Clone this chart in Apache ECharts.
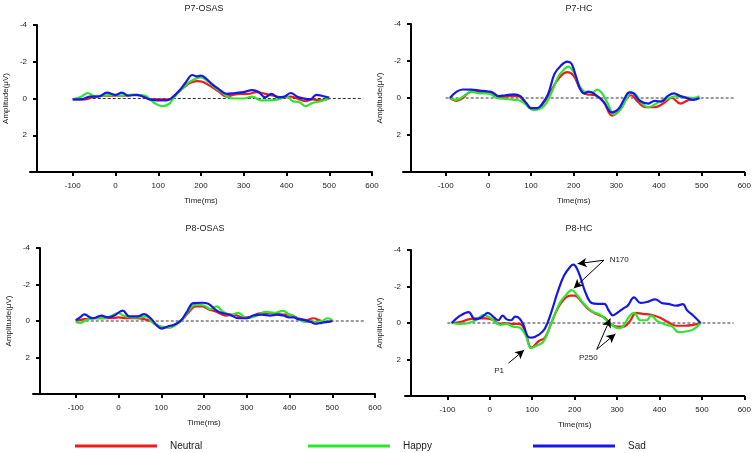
<!DOCTYPE html>
<html>
<head>
<meta charset="utf-8">
<script src="https://cdn.jsdelivr.net/npm/echarts@6/dist/echarts.min.js"></script>
<style>
html,body{margin:0;padding:0;background:#fff;}
#chart{width:754px;height:453px;}
</style>
</head>
<body>
<div id="chart"></div>
<script>
// ---- DATA ----
const seriesNames = ['Neutral', 'Happy', 'Sad'];
const panelTitles = ['P7-OSAS', 'P7-HC', 'P8-OSAS', 'P8-HC'];
const xTickValues = [-100, 0, 100, 200, 300, 400, 500, 600];
const yTickValues = [-4, -2, 0, 2];
const zeroLine = [[-100, 0], [575, 0]];

const p7osasNeutral = [[-100,0.05],[-70,0.05],[-50,-0.1],[-20,-0.15],[0,-0.15],[20,-0.15],[40,-0.2],[60,-0.15],[75,0],[100,0.05],[125,0.05],[140,-0.2],[160,-0.6],[175,-0.85],[190,-0.95],[205,-0.9],[220,-0.7],[240,-0.4],[260,-0.1],[275,-0.2],[290,-0.25],[310,-0.25],[330,-0.35],[350,-0.25],[370,-0.15],[390,-0.05],[410,-0.1],[430,0.05],[445,0.15],[460,0.05],[480,0.1],[500,0]];
const p7osasHappy = [[-100,0.05],[-80,-0.1],[-65,-0.3],[-50,-0.15],[-30,-0.15],[-10,-0.2],[10,-0.15],[30,-0.2],[50,-0.2],[70,-0.15],[80,0.05],[95,0.3],[110,0.42],[125,0.3],[135,0.0],[150,-0.4],[170,-0.85],[190,-1.1],[200,-1.15],[215,-0.95],[230,-0.65],[250,-0.3],[265,-0.05],[280,0],[300,0],[320,-0.1],[340,0.1],[360,0.1],[380,0.05],[400,-0.1],[415,0.15],[430,0.2],[445,0.42],[460,0.25],[480,0.15],[500,0]];
const p7osasSad = [[-100,0.05],[-80,0.05],[-60,-0.1],[-40,-0.1],[-20,-0.32],[0,-0.2],[15,-0.32],[30,-0.15],[50,-0.2],[70,-0.05],[80,0.05],[100,0.1],[120,0.1],[130,0],[150,-0.45],[165,-0.9],[180,-1.28],[190,-1.2],[200,-1.25],[210,-1.12],[225,-0.8],[240,-0.54],[260,-0.25],[280,-0.3],[300,-0.35],[320,-0.46],[335,-0.35],[350,-0.06],[365,-0.25],[380,-0.06],[395,-0.1],[410,-0.3],[425,-0.1],[440,0],[455,0.05],[470,-0.2],[490,-0.1],[500,-0.05]];

const p7hcNeutral = [[-90,0],[-75,0.15],[-60,0],[-45,-0.3],[-30,-0.35],[-10,-0.3],[10,-0.2],[30,-0.05],[50,-0.1],[70,-0.1],[85,0.2],[100,0.55],[115,0.55],[130,0.25],[145,-0.3],[160,-0.9],[175,-1.3],[185,-1.4],[200,-1.2],[215,-0.5],[230,-0.2],[250,-0.15],[270,0.2],[290,0.95],[310,0.6],[325,0],[335,-0.15],[350,0.2],[370,0.5],[390,0.5],[410,0.3],[430,0],[450,0.3],[470,0.1],[490,0.05]];
const p7hcHappy = [[-90,0],[-75,0.1],[-55,-0.15],[-40,-0.35],[-20,-0.25],[0,-0.25],[20,0],[40,0.05],[60,0.1],[75,0.15],[90,0.4],[105,0.65],[120,0.6],[135,0.3],[150,-0.4],[165,-1.2],[180,-1.6],[187,-1.7],[200,-1.4],[215,-0.6],[230,-0.3],[245,-0.3],[255,-0.46],[265,-0.3],[280,0.3],[295,0.9],[310,0.6],[325,0],[335,-0.3],[345,-0.2],[360,0.3],[375,0.5],[390,0.35],[405,0.15],[420,0.05],[440,-0.1],[460,-0.05],[480,0],[495,-0.1]];
const p7hcSad = [[-90,0],[-75,-0.33],[-60,-0.46],[-40,-0.45],[-20,-0.4],[0,-0.35],[10,-0.3],[25,-0.1],[40,-0.15],[60,-0.2],[75,-0.1],[90,0.3],[100,0.55],[115,0.55],[125,0.35],[140,-0.2],[155,-1.3],[170,-1.75],[185,-1.97],[195,-1.85],[205,-1.2],[215,-0.5],[225,-0.25],[235,-0.35],[250,-0.2],[270,0.2],[290,0.78],[305,0.6],[320,0],[330,-0.3],[340,-0.25],[355,0.15],[375,0.3],[390,0.15],[405,0.2],[420,-0.1],[435,-0.25],[450,-0.1],[465,0],[480,0.1],[495,0]];

const p8osasNeutral = [[-100,0],[-80,-0.1],[-60,-0.15],[-40,-0.15],[-20,-0.15],[0,-0.2],[20,-0.15],[40,-0.15],[60,-0.1],[75,0],[90,0.25],[105,0.35],[120,0.35],[135,0.15],[150,-0.1],[165,-0.5],[180,-0.8],[195,-0.8],[210,-0.65],[230,-0.5],[250,-0.3],[270,-0.35],[290,-0.2],[305,-0.2],[325,-0.4],[345,-0.45],[365,-0.4],[385,-0.35],[400,-0.35],[420,-0.15],[440,-0.05],[455,-0.15],[475,0],[490,0.05],[500,0]];
const p8osasHappy = [[-100,0.05],[-90,0.1],[-75,-0.05],[-55,-0.15],[-35,-0.15],[-15,-0.3],[0,-0.45],[10,-0.3],[30,-0.2],[50,-0.2],[65,-0.25],[80,0.1],[100,0.3],[120,0.35],[135,0.2],[150,-0.1],[165,-0.6],[180,-0.9],[200,-0.85],[215,-0.65],[230,-0.8],[245,-0.5],[265,-0.35],[280,-0.45],[300,-0.15],[320,-0.25],[345,-0.5],[365,-0.45],[385,-0.55],[400,-0.35],[420,-0.15],[435,0.05],[455,0.05],[475,0],[490,-0.15],[500,-0.05]];
const p8osasSad = [[-100,-0.05],[-90,-0.2],[-80,-0.36],[-60,-0.15],[-40,-0.3],[-25,-0.2],[-10,-0.3],[10,-0.57],[25,-0.25],[45,-0.25],[60,-0.38],[75,-0.15],[90,0.25],[100,0.42],[115,0.3],[130,0.2],[145,0],[160,-0.5],[175,-0.98],[195,-1.0],[210,-0.95],[225,-0.65],[240,-0.45],[260,-0.35],[280,-0.15],[300,-0.15],[315,-0.3],[335,-0.35],[355,-0.3],[370,-0.35],[385,-0.3],[400,-0.2],[410,-0.2],[420,-0.1],[435,-0.05],[450,0.05],[460,0.15],[475,0.1],[490,0.05],[500,0]];

const p8hcNeutral = [[-90,0],[-70,-0.05],[-50,-0.2],[-30,-0.25],[-10,-0.25],[10,-0.15],[20,0.05],[35,0],[50,0.05],[65,0.05],[75,0.1],[85,0.6],[98,1.35],[115,1.0],[130,0.8],[145,0],[160,-0.8],[175,-1.3],[190,-1.5],[200,-1.5],[215,-1.2],[230,-0.8],[250,-0.5],[270,-0.3],[285,0.05],[300,0.2],[315,0.2],[330,-0.1],[345,-0.55],[360,-0.5],[380,-0.45],[400,-0.3],[420,-0.05],[440,0.15],[460,0.15],[480,0.1],[497,0]];
const p8hcHappy = [[-90,0],[-70,0.05],[-50,0],[-30,-0.2],[-15,-0.45],[0,-0.3],[15,0],[25,0.1],[40,0.05],[55,0.2],[70,0.25],[85,0.7],[97,1.38],[110,1.25],[125,1.05],[135,0.6],[150,-0.3],[165,-1.1],[180,-1.55],[193,-1.8],[205,-1.55],[220,-1.1],[240,-0.65],[260,-0.45],[275,-0.15],[290,0.15],[305,0.3],[315,0.15],[330,-0.4],[340,-0.55],[355,-0.15],[370,-0.15],[380,-0.4],[395,-0.1],[410,0.05],[430,0.2],[445,0.5],[465,0.45],[480,0.35],[497,0]];
const p8hcSad = [[-90,0],[-70,-0.4],[-50,-0.6],[-35,-0.2],[-20,-0.3],[-5,-0.55],[10,-0.3],[20,-0.15],[30,-0.4],[40,-0.2],[50,-0.15],[60,-0.35],[70,-0.25],[80,0.15],[90,0.75],[100,0.8],[115,0.65],[130,0.3],[145,-0.6],[160,-1.7],[175,-2.6],[190,-3.1],[197,-3.2],[205,-3.0],[215,-2.4],[225,-1.7],[240,-1.1],[255,-1.05],[270,-1.05],[280,-0.7],[290,-0.42],[300,-0.55],[315,-0.8],[325,-0.95],[340,-1.4],[355,-1.1],[370,-1.15],[390,-1.3],[405,-1.1],[420,-1.05],[440,-0.95],[455,-1.03],[465,-0.7],[480,-0.4],[497,0]];

// annotation arrows (tail -> head) and labels in data coordinates of P8-HC
const arrowSegments = [
  [[269,-3.44],[207,-3.25]],
  [[269,-3.44],[198,-1.9]],
  [[44,2.2],[81,1.48]],
  [[252,1.45],[284,-0.24]],
  [[252,1.45],[296,0.6]]
];
const annotationLabels = [['N170',305,-3.47],['P1',22,2.6],['P250',232,1.88]];

// ---- LAYOUT ----
const panelData = [
  [p7osasNeutral, p7osasHappy, p7osasSad],
  [p7hcNeutral, p7hcHappy, p7hcSad],
  [p8osasNeutral, p8osasHappy, p8osasSad],
  [p8hcNeutral, p8hcHappy, p8hcSad]
];
const grids = [
  {left:30, top:25, width:342, height:147, yOff:-7, titleTop:4, titleX:204},
  {left:403, top:24, width:345, height:148, yOff:-8, titleTop:4, titleX:579},
  {left:33, top:248, width:342, height:146, yOff:-7, titleTop:224, titleX:205},
  {left:405, top:250, width:340, height:146, yOff:-6, titleTop:224.5, titleX:579}
];
const colors = ['#ee1c1c', '#2ee52e', '#1818e6'];
const FONT = 'Liberation Sans, Arial, sans-serif';
const TXT = '#222';

const option = {
  animation: false,
  backgroundColor: '#fff',
  textStyle: {fontFamily: FONT},
  title: grids.map((g, i) => ({
    text: panelTitles[i],
    left: g.titleX,
    top: g.titleTop,
    padding: 0,
    textAlign: 'center',
    textStyle: {fontSize: 9, fontWeight: 'normal', color: TXT, fontFamily: FONT}
  })),
  legend: seriesNames.map((n, i) => ({
    data: [n],
    left: [75, 308, 533][i],
    top: 441,
    padding: 0,
    icon: 'rect',
    itemWidth: 82,
    itemHeight: 3,
    selectedMode: false,
    textStyle: {fontSize: 10, color: TXT, fontFamily: FONT, padding: [0, 0, 0, 8]}
  })),
  grid: grids.map(g => ({left: g.left, top: g.top, width: g.width, height: g.height})),
  xAxis: grids.map((g, i) => ({
    type: 'value', gridIndex: i, min: -200, max: 600,
    name: 'Time(ms)', nameLocation: 'middle', nameGap: 25,
    nameTextStyle: {fontSize: 8, color: TXT, fontFamily: FONT},
    axisLine: {onZero: false, lineStyle: {color: '#000', width: 2}},
    axisTick: {show: true, length: 4, lineStyle: {color: '#000', width: 2}, customValues: xTickValues},
    axisLabel: {fontSize: 8, color: TXT, margin: 10, customValues: xTickValues, fontFamily: FONT},
    splitLine: {show: false}
  })),
  yAxis: grids.map((g, i) => ({
    type: 'value', gridIndex: i, min: -4, max: 4, inverse: true, offset: g.yOff,
    name: 'Amplitude(μV)', nameLocation: 'middle', nameGap: 27, nameRotate: 90,
    nameTextStyle: {fontSize: 8, color: TXT, fontFamily: FONT},
    axisLine: {show: true, onZero: false, lineStyle: {color: '#000', width: 2}},
    axisTick: {show: true, length: 4, lineStyle: {color: '#000', width: 2}, customValues: yTickValues},
    axisLabel: {fontSize: 8, color: TXT, margin: 10, customValues: yTickValues, fontFamily: FONT},
    splitLine: {show: false}
  })),
  series: []
};

panelData.forEach((sets, p) => {
  option.series.push({
    type: 'line', xAxisIndex: p, yAxisIndex: p, data: zeroLine, symbol: 'none',
    silent: true, lineStyle: {color: '#000', width: 0.8, type: [3, 2]}, z: 1
  });
  sets.forEach((d, k) => {
    const s = {
      type: 'line', name: seriesNames[k], xAxisIndex: p, yAxisIndex: p,
      data: d, smooth: 0.4, symbol: 'none', color: colors[k],
      lineStyle: {color: colors[k], width: 2.2}, z: 2 + k
    };
    if (p === 3 && k === 2) {
      s.markLine = {
        silent: true, symbol: ['none', 'arrow'], symbolSize: [7, 9],
        label: {show: false},
        lineStyle: {color: '#000', width: 1, type: 'solid'},
        data: arrowSegments.map(a => [{coord: a[0]}, {coord: a[1]}])
      };
      s.markPoint = {
        silent: true, symbol: 'circle', symbolSize: 0,
        label: {show: true, position: 'inside', color: TXT, fontSize: 8, fontFamily: FONT,
          formatter: q => q.name},
        data: annotationLabels.map(a => ({name: a[0], coord: [a[1], a[2]]}))
      };
    }
    option.series.push(s);
  });
});

const chart = echarts.init(document.getElementById('chart'), null, {renderer: 'canvas'});
chart.setOption(option);
</script>
</body>
</html>
